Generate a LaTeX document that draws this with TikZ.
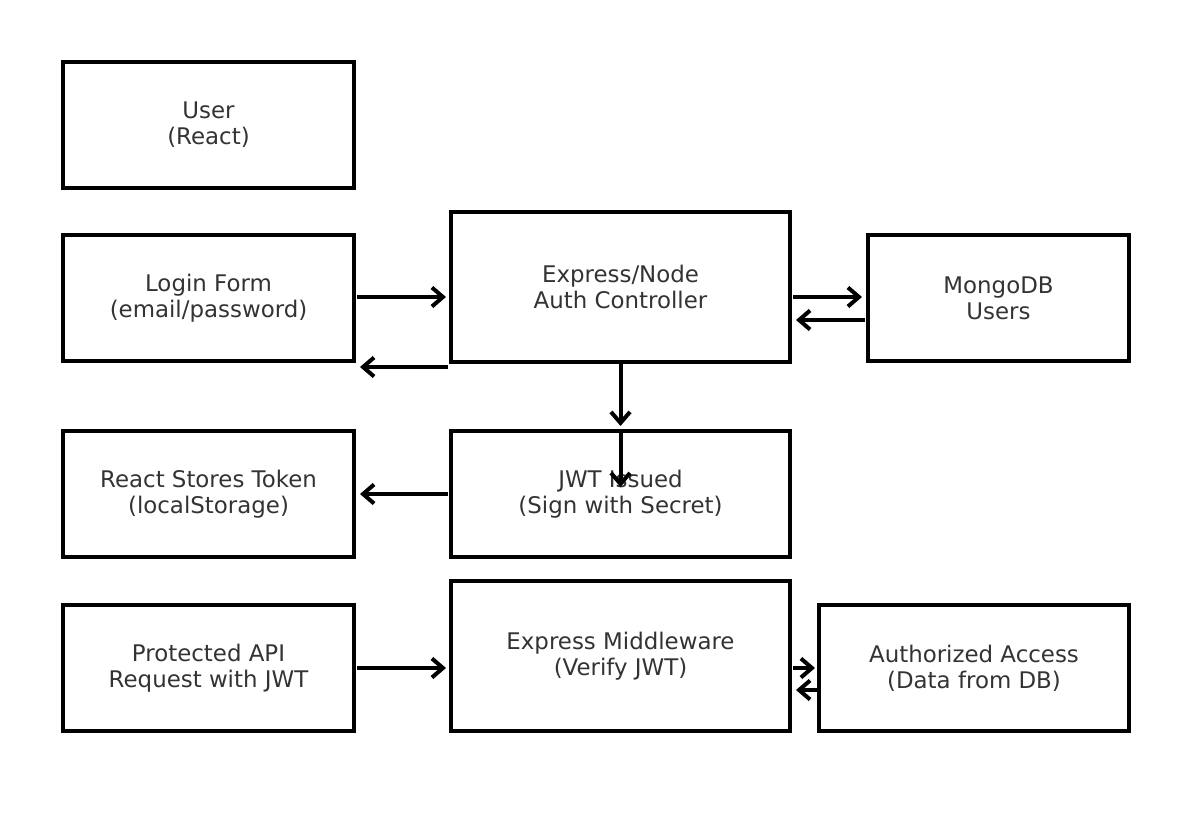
\documentclass[tikz,border=0pt]{standalone}
\usepackage{fontspec}
\setmainfont{DejaVu Sans}
\usetikzlibrary{arrows.meta}
\definecolor{txt}{HTML}{333333}
\begin{document}
\begin{tikzpicture}[x=1pt,y=-1pt,
  box/.style={draw=black,line width=3.8pt,rectangle,align=center,text=txt,
    font=\fontsize{22.9}{26}\selectfont,inner sep=0pt,outer sep=0pt},
  sbox/.style={box,minimum width=291pt,minimum height=126pt},
  bbox/.style={box,minimum width=339pt,minimum height=150pt},
  arr/.style={draw=black,line width=4pt,-{Straight Barb[length=11pt,width=19pt,line width=4pt]}}]
\useasboundingbox (0,0) rectangle (1192,838);
\node[sbox] (user) at (208.5,125) {User\\(React)};
\node[sbox] (login) at (208.5,298) {Login Form\\(email/password)};
\node[bbox] (auth) at (620.5,287) {Express/Node\\Auth Controller};
\node[box,minimum width=261pt,minimum height=126pt] (mongo) at (998.5,298) {MongoDB\\Users};
\node[sbox] (store) at (208.5,494) {React Stores Token\\(localStorage)};
\node[bbox,minimum height=126pt] (jwt) at (620.5,494) {JWT Issued\\(Sign with Secret)};
\node[sbox] (api) at (208.5,668) {Protected API\\Request with JWT};
\node[bbox] (mw) at (620.5,656) {Express Middleware\\(Verify JWT)};
\node[box,minimum width=310pt,minimum height=126pt] (acc) at (974,668) {Authorized Access\\(Data from DB)};
% login <-> auth
\draw[arr] ([xshift=3pt,yshift=1pt]login.east) -- ([xshift=-5pt,yshift=1pt]login.east -| auth.west);
\draw[arr] ([xshift=-3pt,yshift=-5pt]auth.south west) -- ([xshift=6pt,yshift=-5pt]auth.south west -| login.east);
% auth <-> mongo
\draw[arr] ([xshift=3pt,yshift=1pt]mongo.west -| auth.east) -- ([xshift=-6pt,yshift=1pt]mongo.west);
\draw[arr] ([xshift=-3pt,yshift=-22pt]mongo.west) -- ([xshift=6pt,yshift=-22pt]mongo.west -| auth.east);
% auth -> jwt
\draw[arr] ([yshift=-2pt]auth.south) -- ([yshift=5pt]jwt.north);
\coordinate (jwtend) at ([yshift=-56pt]jwt.north);
\draw[arr] ([yshift=-2pt]jwt.north) -- (jwtend);
% jwt -> store
\draw[arr] ([xshift=-3pt]jwt.west) -- ([xshift=6pt]store.east);
% api -> mw
\draw[arr] ([xshift=3pt]api.east) -- ([xshift=-5pt]api.east -| mw.west);
% mw <-> acc
\draw[arr] ([xshift=3pt]acc.west -| mw.east) -- ([xshift=-4pt]acc.west);
\draw[arr] ([xshift=-2pt,yshift=-22pt]acc.west) -- ([xshift=6pt,yshift=-22pt]acc.west -| mw.east);
\end{tikzpicture}
\end{document}
